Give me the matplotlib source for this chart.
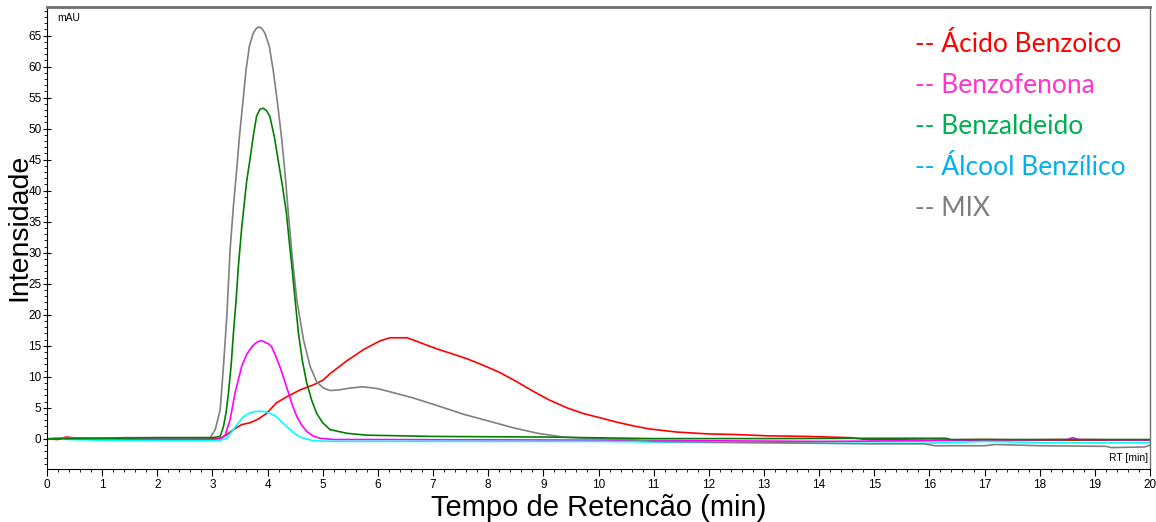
import matplotlib.pyplot as plt
from matplotlib.ticker import MultipleLocator

# retention time (min) / intensity (mAU)
t_benzoico = [0, 0.2, 0.35, 0.45, 0.6, 1, 2, 3.0, 3.14, 3.25, 3.38, 3.53, 3.68, 3.83, 3.98,
              4.16, 4.35, 4.59, 4.83, 5.01, 5.13, 5.44, 5.74, 6.04, 6.22, 6.53, 6.8,
              7.07, 7.35, 7.62, 7.9, 8.21, 8.5, 8.81, 9.1, 9.43, 9.72, 10.03, 10.33, 10.63,
              10.93, 11.42, 12, 12.5, 13.05, 13.8, 14.56, 14.87, 16, 17, 18, 20]
v_benzoico = [0, -0.1, 0.3, 0.2, 0, -0.1, 0, 0, 0.1, 0.6, 1.5, 2.3, 2.6, 3.2, 4.1,
              5.8, 6.8, 7.9, 8.7, 9.5, 10.5, 12.6, 14.4, 15.8, 16.3, 16.3, 15.4,
              14.5, 13.7, 12.9, 11.9, 10.7, 9.3, 7.7, 6.3, 5.0, 4.1, 3.4, 2.7, 2.1,
              1.6, 1.1, 0.8, 0.7, 0.5, 0.4, 0.2, -0.1, -0.2, -0.1, -0.2, -0.2]

t_benzofenona = [0, 0.3, 1, 2, 3.0, 3.15, 3.23, 3.32, 3.41, 3.53, 3.62, 3.68, 3.73, 3.78,
                 3.83, 3.88, 3.93, 3.97, 4.02, 4.07, 4.14, 4.22, 4.3, 4.38, 4.45, 4.53,
                 4.62, 4.71, 4.82, 4.95, 5.2, 6, 10, 14, 16, 17, 18.5, 18.6, 18.7, 20]
v_benzofenona = [0, 0.2, 0.1, 0, -0.1, 0, 0.6, 3.1, 7.4, 11.7, 13.6, 14.4, 15.0, 15.4,
                 15.7, 15.8, 15.7, 15.5, 15.3, 14.9, 13.5, 11.7, 9.6, 7.4, 5.4, 3.6,
                 2.2, 1.2, 0.5, 0.1, -0.1, -0.1, -0.2, -0.4, -0.3, -0.2, -0.1, 0.2, -0.1, -0.2]

t_benzaldeido = [0, 1, 2, 2.7, 3.0, 3.14, 3.2, 3.25, 3.29, 3.34, 3.38, 3.43, 3.47, 3.53,
                 3.58, 3.62, 3.68, 3.74, 3.8, 3.86, 3.92, 3.98, 4.04, 4.12, 4.19, 4.27,
                 4.34, 4.39, 4.44, 4.5, 4.56, 4.63, 4.71, 4.8, 4.89, 5.0, 5.13, 5.44,
                 5.8, 7, 9, 11, 13, 15, 16.3, 16.4, 20]
v_benzaldeido = [0, 0.1, 0.2, 0.2, 0.2, 0.4, 2, 4.4, 7.4, 12, 17, 22.5, 27.8, 34,
                 38.2, 41.5, 45, 48.8, 52, 53.1, 53.3, 52.9, 52, 48.8, 45, 40.7,
                 36.5, 32, 27.8, 22.3, 17, 12.6, 9, 6.2, 4.1, 2.6, 1.5, 0.9,
                 0.6, 0.4, 0.3, 0.05, 0.05, 0.1, 0.1, -0.1, -0.1]

t_alcool = [0, 0.2, 0.4, 1, 2, 3.0, 3.15, 3.26, 3.38, 3.47, 3.56, 3.68, 3.77, 3.86, 3.95,
            4.05, 4.16, 4.28, 4.41, 4.5, 4.59, 4.7, 4.83, 5.2, 8, 10, 12, 14, 16, 17, 18, 20]
v_alcool = [0, 0.2, -0.1, -0.2, -0.3, -0.3, -0.2, 0.1, 1.5, 2.6, 3.6, 4.2, 4.4, 4.45, 4.4,
            4.1, 3.6, 2.5, 1.5, 0.8, 0.3, 0, -0.3, -0.4, -0.4, -0.4, -0.6, -0.7, -0.7, -0.4, -0.6, -0.6]

t_mix = [0, 0.3, 0.8, 1.4, 2.0, 2.7, 2.96, 3.05, 3.14, 3.2, 3.26, 3.32, 3.38, 3.44, 3.49,
         3.55, 3.61, 3.67, 3.74, 3.8, 3.85, 3.9, 3.95, 4.03, 4.1, 4.18, 4.25, 4.31,
         4.37, 4.45, 4.53, 4.65, 4.77, 4.89, 5.01, 5.13, 5.3, 5.5, 5.73, 6.0, 6.3,
         6.64, 7.1, 7.54, 8.0, 8.45, 8.9, 9.36, 9.8, 10.5, 11, 12, 13, 14, 15, 15.9,
         16.1, 17, 17.2, 18, 19.2, 19.3, 19.9, 20]
v_mix = [0, 0.1, 0, 0.2, 0.2, 0.2, 0.2, 1.5, 4.7, 11.7, 19.7, 30.5, 37.5, 43.4, 48.8,
         54.1, 59.5, 63.3, 65.4, 66.2, 66.4, 66.1, 65.4, 63.3, 59.5, 54.1, 48.8, 43.4,
         37, 29, 22.4, 16, 11.7, 9.2, 8.2, 7.8, 7.9, 8.2, 8.4, 8.1, 7.4,
         6.6, 5.3, 4.0, 2.9, 1.8, 0.9, 0.3, 0.1, -0.1, -0.4, -0.5, -0.6, -0.7, -0.8, -0.8,
         -1.1, -1.1, -0.9, -1.1, -1.2, -1.4, -1.3, -1.0]

series = [
    (t_benzoico, v_benzoico, '#ff0000'),
    (t_benzofenona, v_benzofenona, '#ff00ff'),
    (t_alcool, v_alcool, '#00ffff'),
    (t_mix, v_mix, '#808080'),
    (t_benzaldeido, v_benzaldeido, '#008000'),
]

legend_labels = ['-- Ácido Benzoico', '-- Benzofenona', '-- Benzaldeido',
                 '-- Álcool Benzílico', '-- MIX']
legend_colors = ['#ff0000', '#ff33cc', '#00b050', '#00b0f0', '#7f7f7f']

plt.rcParams['font.family'] = ['Liberation Sans', 'DejaVu Sans']

fig = plt.figure(figsize=(11.56, 5.22), dpi=100)
ax = fig.add_axes([47 / 1156, 53 / 522, 1103 / 1156, 462 / 522])

for t, v, c in series:
    ax.plot(t, v, color=c, lw=1.2)

ax.set_xlim(0, 20)
ax.set_ylim(-4.85, 69.6)
ax.xaxis.set_major_locator(MultipleLocator(1))
ax.xaxis.set_minor_locator(MultipleLocator(0.2))
ax.set_yticks(range(0, 66, 5))
ax.yaxis.set_minor_locator(MultipleLocator(1))
ax.tick_params(axis='x', which='major', direction='out', length=5, labelsize=8.5, pad=2)
ax.tick_params(axis='x', which='minor', direction='out', length=2.5)
ax.tick_params(axis='y', which='major', direction='inout', length=6, labelsize=8.5, pad=1)
ax.tick_params(axis='y', which='minor', direction='out', length=2.5)

ax.spines['top'].set_color('#707070')
ax.spines['top'].set_linewidth(2)
ax.spines['right'].set_color('#707070')
ax.spines['right'].set_linewidth(1)

ax.set_xlabel('Tempo de Retencão (min)', fontsize=21, labelpad=2)
ax.set_ylabel('Intensidade', fontsize=20.5)
ax.yaxis.set_label_coords(-0.013, 0.522)

ax.text(0.009, 0.976, 'mAU', transform=ax.transAxes, fontsize=7.5, va='center', ha='left')
ax.text(0.998, 0.024, 'RT [min]', transform=ax.transAxes, fontsize=7.5, va='center', ha='right')

for i, (lab, col) in enumerate(zip(legend_labels, legend_colors)):
    ax.text(0.787, 0.9026 - i * 0.0887, lab, transform=ax.transAxes, color=col,
            fontsize=19, family=['Lato', 'DejaVu Sans'], va='baseline', ha='left')

fig.savefig('out.png', dpi=100)
